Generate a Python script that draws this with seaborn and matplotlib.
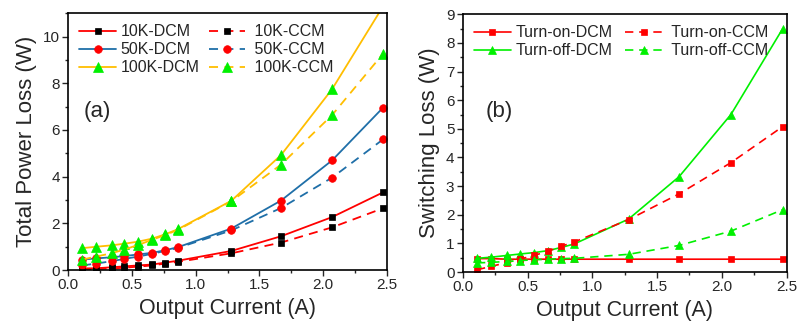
import pandas as pd
import matplotlib.pyplot as plt
import seaborn as sns
from matplotlib.ticker import MultipleLocator, AutoMinorLocator

sns.set_style("ticks")
plt.rcParams['font.family'] = ['Liberation Sans', 'DejaVu Sans']

# Output current (A)
current = [0.11, 0.22, 0.34, 0.44, 0.55, 0.66, 0.76, 0.86, 1.28, 1.67, 2.07, 2.47]

# (a) total power loss (W)
loss_10k_dcm = [0.07, 0.08, 0.12, 0.16, 0.20, 0.24, 0.32, 0.40, 0.82, 1.45, 2.27, 3.33]
loss_10k_ccm = [0.03, 0.04, 0.07, 0.10, 0.15, 0.20, 0.28, 0.35, 0.72, 1.18, 1.83, 2.65]
loss_50k_dcm = [0.45, 0.50, 0.55, 0.60, 0.67, 0.74, 0.85, 0.98, 1.78, 2.98, 4.70, 6.96]
loss_50k_ccm = [0.20, 0.28, 0.38, 0.48, 0.58, 0.70, 0.82, 0.95, 1.70, 2.66, 3.96, 5.60]
loss_100k_dcm = [0.94, 1.00, 1.06, 1.13, 1.22, 1.35, 1.53, 1.75, 2.97, 4.93, 7.75, 11.30]
loss_100k_ccm = [0.45, 0.58, 0.72, 0.88, 1.08, 1.30, 1.50, 1.72, 2.95, 4.52, 6.64, 9.27]

# (b) switching loss (W)
on_dcm = [0.47, 0.47, 0.45, 0.45, 0.45, 0.45, 0.45, 0.45, 0.45, 0.45, 0.45, 0.45]
on_ccm = [0.08, 0.20, 0.33, 0.45, 0.58, 0.73, 0.90, 1.05, 1.83, 2.73, 3.82, 5.08]
off_dcm = [0.48, 0.52, 0.58, 0.63, 0.68, 0.75, 0.86, 0.98, 1.85, 3.33, 5.50, 8.50]
off_ccm = [0.32, 0.34, 0.37, 0.40, 0.43, 0.45, 0.47, 0.48, 0.62, 0.93, 1.43, 2.18]

RED = '#FF0000'
BLUE = '#1F6FA8'
YELLOW = '#FFBE00'
GREEN = '#00F000'

# marker size tweaks so the shapes look about the same size
MSCALE = {'s': 1.0, 'o': 1.1, '^': 1.3}

fig = plt.figure(figsize=(7.97, 3.31), dpi=100)
ax1 = fig.add_axes([0.0855, 0.184, 0.400, 0.776])
ax2 = fig.add_axes([0.5806, 0.178, 0.4064, 0.779])


def draw(ax, y, color, mcolor, marker, dashed, label, ms, lw):
    df = pd.DataFrame({'x': current, 'y': y})
    sns.lineplot(data=df, x='x', y='y', ax=ax, color=color, lw=lw,
                 marker=marker, ms=ms * MSCALE[marker], mfc=mcolor,
                 mec=mcolor, mew=0.5, linestyle='--' if dashed else '-',
                 dashes=False, label=label)
    if dashed:
        ax.lines[-1].set_dashes([5, 3.5])


# panel (a)
series_a = [
    (loss_10k_dcm, RED, 'black', 's', False, '10K-DCM'),
    (loss_50k_dcm, BLUE, RED, 'o', False, '50K-DCM'),
    (loss_100k_dcm, YELLOW, GREEN, '^', False, '100K-DCM'),
    (loss_10k_ccm, RED, 'black', 's', True, ' 10K-CCM'),
    (loss_50k_ccm, BLUE, RED, 'o', True, ' 50K-CCM'),
    (loss_100k_ccm, YELLOW, GREEN, '^', True, ' 100K-CCM'),
]
for y, c, mc, m, d, lab in series_a:
    draw(ax1, y, c, mc, m, d, lab, 5.0, 1.3)

# panel (b)
series_b = [
    (on_dcm, RED, RED, 's', False, 'Turn-on-DCM'),
    (off_dcm, GREEN, GREEN, '^', False, 'Turn-off-DCM'),
    (on_ccm, RED, RED, 's', True, ' Turn-on-CCM'),
    (off_ccm, GREEN, GREEN, '^', True, ' Turn-off-CCM'),
]
for y, c, mc, m, d, lab in series_b:
    draw(ax2, y, c, mc, m, d, lab, 4.4, 1.2)

panels = [(ax1, 'Total Power Loss (W)', 11, 2, '(a)', 0.047, 0.595, 0.55),
          (ax2, 'Switching Loss (W)', 9, 1, '(b)', 0.072, 0.60, 0.8)]
for ax, ylab, ymax, ystep, tag, tx, ty, colsp in panels:
    ax.set_xlim(0, 2.5)
    ax.set_ylim(0, ymax)
    ax.xaxis.set_major_locator(MultipleLocator(0.5))
    ax.yaxis.set_major_locator(MultipleLocator(ystep))
    ax.xaxis.set_minor_locator(AutoMinorLocator(2))
    ax.yaxis.set_minor_locator(AutoMinorLocator(2))
    ax.tick_params(which='major', direction='out', length=4, width=1,
                   labelsize=11, pad=2)
    ax.tick_params(which='minor', direction='out', length=2.5, width=1)
    ax.set_xlabel('Output Current (A)', fontsize=15.5, labelpad=4)
    ax.set_ylabel(ylab, fontsize=16, labelpad=4)
    for s in ax.spines.values():
        s.set_linewidth(1.2)
        s.set_color('black')
    ax.text(tx, ty, tag, transform=ax.transAxes, fontsize=16)
    ax.legend(ncol=2, loc='upper left', frameon=False, fontsize=11.5,
              handlelength=2.3, columnspacing=colsp, labelspacing=0.18,
              handletextpad=0.3, borderaxespad=0.3)

fig.savefig('out.png', dpi=100)
